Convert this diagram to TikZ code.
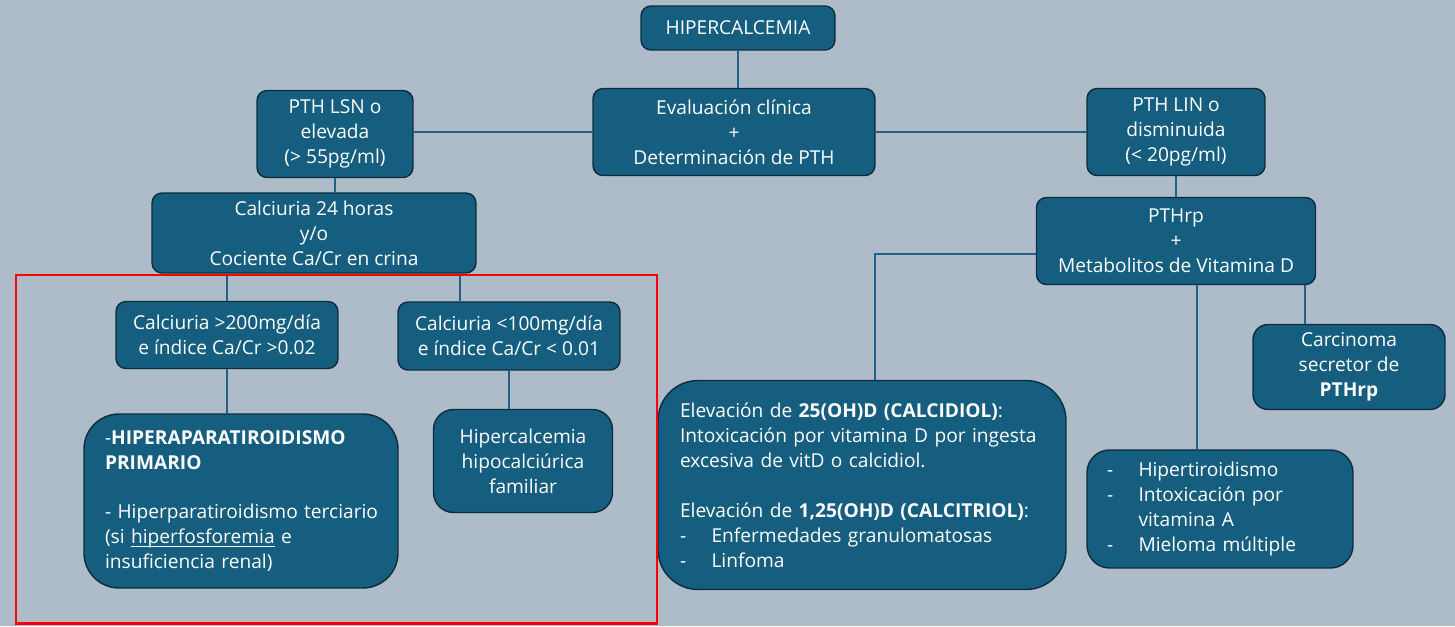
\documentclass[tikz,border=0pt]{standalone}
\usepackage{fontspec}
\setmainfont{Open Sans}
\usepackage{tikz}

\definecolor{fondo}{RGB}{174,187,200}
\definecolor{azul}{RGB}{22,94,128}
\definecolor{borde}{RGB}{12,44,60}
\definecolor{conector}{RGB}{30,98,135}

\tikzset{
    caja/.style={draw=borde, fill=azul, text=white, line width=0.8pt,
        rounded corners=0.2cm, align=center, inner sep=0pt,
        font=\fontsize{10.9}{14.2}\selectfont},
    lista/.style={caja, align=left, inner xsep=0.42cm},
    linea/.style={draw=conector, line width=1.1pt},
}
\newcommand{\itemguion}{\makebox[0.63cm][l]{-}}
\newcommand{\subrayado}[1]{\setbox0\hbox{#1}\rlap{\rule[-1.8pt]{\wd0}{0.5pt}}\box0\relax}

\begin{document}
\begin{tikzpicture}[x=0.02cm, y=-0.02cm]
        \fill[fondo] (0,0) rectangle (1455,626);

        \node[caja, minimum width=3.88cm, minimum height=0.88cm] (hiper) at (738,28) {HIPERCALCEMIA};
        \node[
            caja,
            minimum width=5.64cm,
            minimum height=1.74cm] (eval) at (734,132) {Evaluación clínica\\+\\Determinación de PTH};
        \node[caja, minimum width=3.12cm, minimum height=1.74cm] (lsn) at (335,134) {PTH LSN o\\elevada\\(> 55pg/ml)};
        \node[caja, minimum width=3.56cm, minimum height=1.74cm] (lin) at (1176,132) {PTH LIN o\\disminuida\\(< 20pg/ml)};
        \node[caja, minimum width=6.48cm, minimum height=1.6cm] (calc) at (314,233) {Calciuria 24 horas\\y/o\\Cociente Ca/Cr en crina};
        \node[caja, minimum width=5.58cm, minimum height=1.74cm] (pthrp) at (1176,241) {PTHrp\\+\\Metabolitos de Vitamina D};

        \node[caja, minimum width=4.44cm, minimum height=1.34cm] (alta) at (227,335) {Calciuria >200mg/día\\e índice Ca/Cr >0.02};
        \node[caja, minimum width=4.44cm, minimum height=1.36cm] (baja) at (509,336) {Calciuria <100mg/día\\e índice Ca/Cr < 0.01};
        \node[
            lista,
            rounded corners=0.7cm,
            text width=5.44cm,
            minimum height=3.48cm] (hpt) at (241,501) {-\textbf{HIPERAPARATIROIDISMO}\\\textbf{PRIMARIO}\\[14.2pt]\mbox{- Hiperparatiroidismo terciario}\\(si \subrayado{hiperfosforemia} e\\insuficiencia renal)};
        \node[caja, rounded corners=0.4cm, minimum width=3.58cm, minimum height=2.06cm] (hhf) at (523,461) {Hipercalcemia\\hipocalciúrica\\familiar};

        \node[
            lista,
            rounded corners=0.8cm,
            inner xsep=0.44cm,
            text width=7.28cm,
            minimum height=4.18cm] (elev) at (862,485) {Elevación de \textbf{25(OH)D (CALCIDIOL)}:\\\mbox{Intoxicación por vitamina D por ingesta}\\excesiva de vitD o calcidiol.\\[14.2pt]Elevación de \textbf{1,25(OH)D (CALCITRIOL)}:\\\itemguion Enfermedades granulomatosas\\\itemguion Linfoma};
        \node[caja, rounded corners=0.3cm, minimum width=3.84cm, minimum height=1.7cm] (carc) at (1349,367) {Carcinoma\\secretor de\\\textbf{PTHrp}};
        \node[
            lista,
            rounded corners=0.45cm,
            inner xsep=0.4cm,
            text width=4.52cm,
            minimum height=2.36cm] (otras) at (1220,509) {\itemguion Hipertiroidismo\\\itemguion Intoxicación por\\\hspace*{0.63cm}vitamina A\\\itemguion Mieloma múltiple};

        \draw[linea] (hiper.south) -- (hiper.south |- eval.north);
        \draw[linea] (lsn.east |- eval.west) -- (eval.west);
        \draw[linea] (eval.east) -- (eval.east -| lin.west);
        \draw[linea] (lsn.south) -- (lsn.south |- calc.north);
        \draw[linea] (lin.south) -- (lin.south |- pthrp.north);
        \draw[linea] (alta.north) -- (alta.north |- calc.south);
        \draw[linea] ([xshift=-0.98cm]baja.north) -- ([xshift=-0.98cm]baja.north |- calc.south);
        \draw[linea] (alta.south) -- (alta.south |- hpt.north);
        \draw[linea] (baja.south) -- (baja.south |- hhf.north);
        \draw[linea] ([yshift=-0.26cm]pthrp.west) -| ([xshift=0.26cm]elev.north);
        \draw[linea] ([xshift=-0.46cm]otras.north) -- ([xshift=-0.46cm]otras.north |- pthrp.south);
        \draw[linea] ([xshift=-0.88cm]carc.north) -- ([xshift=-0.88cm]carc.north |- pthrp.south);

        \draw[red, line width=1.7pt] (16,275) rectangle (657,623);
    \end{tikzpicture}
\end{document}
